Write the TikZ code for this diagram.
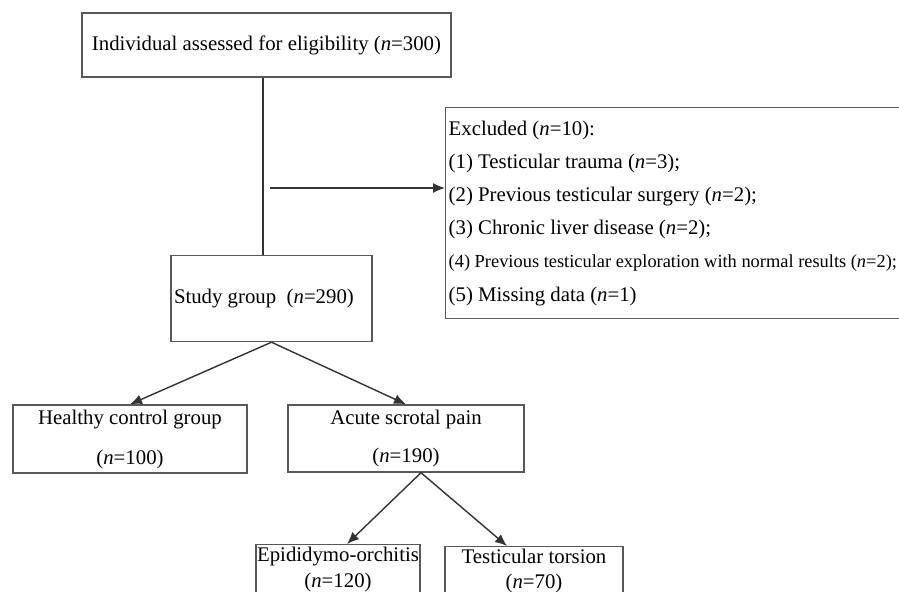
\documentclass[tikz,border=0pt]{standalone}
\usepackage{fontspec}
\setmainfont{Liberation Serif}
\usetikzlibrary{arrows.meta}
\begin{document}
\begin{tikzpicture}[x=0.5pt,y=-0.5pt,
  box/.style={draw=black!65,line width=0.7pt,inner sep=1.5pt,font=\fontsize{10.4}{20}\selectfont,
    execute at begin node={\spaceskip=0pt\xspaceskip=0pt}},
  link/.style={draw=black!80,line width=0.7pt,-{Latex[length=6pt,width=5pt]}}]
\useasboundingbox (0,0) rectangle (899,591);
\clip (0,0) rectangle (899,591);
\node[box,minimum width=184.5pt,minimum height=32pt](all) at (266.5,45){Individual assessed for eligibility (\textit{n}=300)};
\node[box,anchor=north west,minimum width=250pt,minimum height=105.5pt,text width=247pt,align=left,font=\fontsize{10.4}{16.6}\selectfont](excl) at (445,107){Excluded (\textit{n}=10):\\
(1) Testicular trauma (\textit{n}=3);\\
(2) Previous testicular surgery (\textit{n}=2);\\
(3) Chronic liver disease (\textit{n}=2);\\
\mbox{\fontsize{9.2}{16.6}\selectfont(4) Previous testicular exploration with normal results (\textit{n}=2);}\\
(5) Missing data (\textit{n}=1)};
\node[box,minimum width=100.5pt,minimum height=43pt,text width=97.5pt,align=left](study) at (271.5,298.5){Study group\ \ (\textit{n}=290)};
\node[box,minimum width=117pt,minimum height=34pt,align=center](healthy) at (130,439){Healthy control group\\(\textit{n}=100)};
\node[box,minimum width=118pt,minimum height=33.5pt,align=center,font=\fontsize{10.4}{19}\selectfont](acute) at (406,438.5){Acute scrotal pain\\(\textit{n}=190)};
\node[box,anchor=north,minimum width=82pt,minimum height=25pt,inner sep=0pt,align=center,font=\fontsize{10.4}{13}\selectfont](epi) at (338,544){Epididymo-orchitis\\(\textit{n}=120)};
\node[box,anchor=north,minimum width=89pt,minimum height=24pt,inner sep=0pt,align=center,font=\fontsize{10.4}{12.5}\selectfont](torsion) at (534,546){Testicular torsion\\(\textit{n}=70)};
\draw[draw=black!80,line width=0.7pt]([xshift=-1.75pt]all.south)--([xshift=-1.75pt]all.south |- study.north);
\coordinate (split) at (270,188);
\draw[link](split)--(split -| excl.west);
\draw[link](study.south)--(healthy.north);
\draw[link](study.south)--(acute.north);
\draw[link]([xshift=7.5pt]acute.south)--([xshift=4.5pt]epi.north);
\draw[link]([xshift=7.5pt]acute.south)--([xshift=-13.5pt]torsion.north);
\end{tikzpicture}
\end{document}
